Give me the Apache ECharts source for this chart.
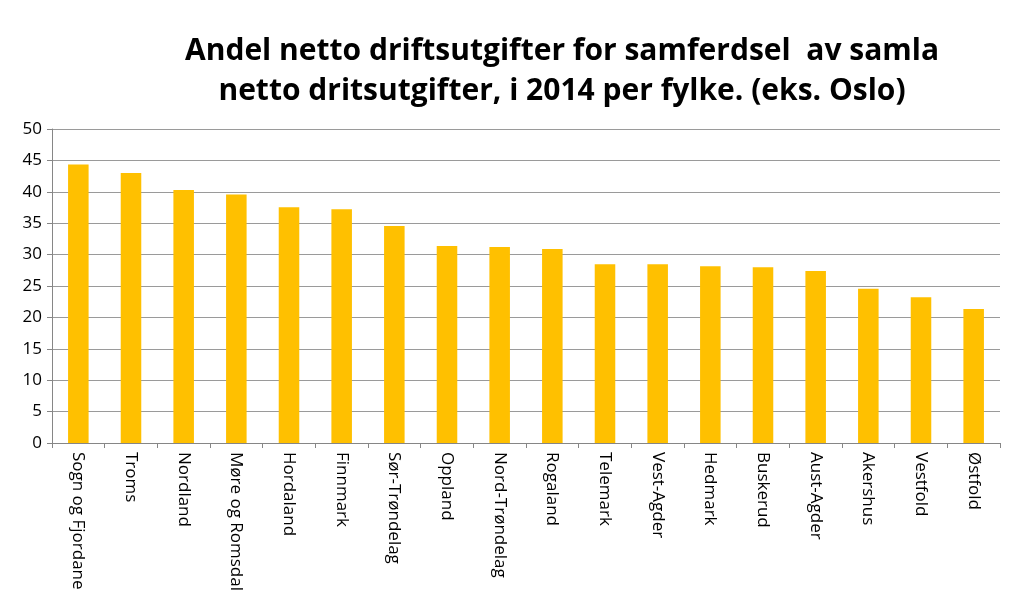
<!DOCTYPE html>
<html><head><meta charset="utf-8">
<script src="https://cdn.jsdelivr.net/npm/echarts@6/dist/echarts.min.js"></script>
<style>html,body{margin:0;padding:0;background:#fff}#c{width:1024px;height:613px}</style>
</head><body><div id="c"></div>
<script>
const categories = ["Sogn og Fjordane","Troms","Nordland","Møre og Romsdal","Hordaland","Finnmark","Sør-Trøndelag","Oppland","Nord-Trøndelag","Rogaland","Telemark","Vest-Agder","Hedmark","Buskerud","Aust-Agder","Akershus","Vestfold","Østfold"];
const values = [44.35,42.98,40.3,39.57,37.55,37.23,34.57,31.38,31.22,30.9,28.46,28.45,28.14,27.98,27.39,24.57,23.2,21.33];
const titleText = "Andel netto driftsutgifter for samferdsel  av samla\nnetto dritsutgifter, i 2014 per fylke. (eks. Oslo)";

const chart = echarts.init(document.getElementById('c'));
chart.setOption({
  animation:false,
  title:{text:titleText,left:557,textAlign:'center',top:26,
    textStyle:{fontFamily:'Open Sans',fontWeight:'bold',fontSize:30,color:'#000',lineHeight:40}},
  grid:{left:52,right:24,top:129,bottom:170,containLabel:false},
  xAxis:{type:'category',data:categories,
    axisLine:{lineStyle:{color:'#868686'}},
    axisTick:{show:true,length:5,lineStyle:{color:'#868686'}},
    axisLabel:{rotate:-90,interval:0,fontFamily:'Open Sans',fontSize:17,color:'#000',margin:9}},
  yAxis:{type:'value',min:0,max:50,interval:5,
    axisLine:{show:true,lineStyle:{color:'#868686'}},
    axisTick:{show:true,length:5,lineStyle:{color:'#868686'}},
    splitLine:{lineStyle:{color:'#9a9a9a',width:1}},
    axisLabel:{fontFamily:'Open Sans',fontSize:17,color:'#000',margin:10}},
  series:[{type:'bar',data:values,barWidth:'39%',itemStyle:{color:'#FFC000'}}]
});
</script></body></html>
